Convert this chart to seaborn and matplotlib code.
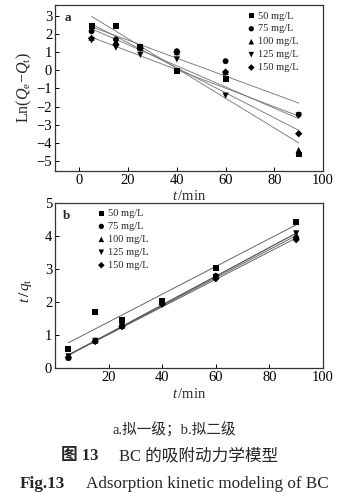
import numpy as np
import pandas as pd
import matplotlib
matplotlib.use("Agg")
import matplotlib.pyplot as plt
import seaborn as sns

sns.set_theme(style="ticks")
plt.rcParams['font.family'] = ['Liberation Serif', 'Noto Sans CJK SC']
plt.rcParams['mathtext.fontset'] = 'custom'
plt.rcParams['mathtext.rm'] = 'Liberation Serif'
plt.rcParams['mathtext.it'] = 'Liberation Serif:italic'
plt.rcParams['mathtext.bf'] = 'Liberation Serif:bold'

times = [5, 15, 25, 40, 60, 90]
series = ["50 mg/L", "75 mg/L", "100 mg/L", "125 mg/L", "150 mg/L"]

# panel a: pseudo-first-order ln(Qe-Qt)
a_50 = [2.45, 2.45, 1.30, -0.05, -0.50, -4.65]
a_75 = [2.15, 1.70, 1.30, 1.05, 0.50, -2.45]
a_100 = [1.80, 1.60, 1.25, 1.00, -0.10, -4.40]
a_125 = [1.65, 1.25, 0.85, 0.60, -1.40, -2.50]
a_150 = [1.75, 1.40, 1.20, 1.00, -0.10, -3.50]

# panel b: pseudo-second-order t/qt
b_50 = [0.57, 1.68, 1.46, 2.02, 3.03, 4.42]
b_75 = [0.30, 0.82, 1.27, 1.97, 2.78, 3.93]
b_100 = [0.33, 0.83, 1.28, 1.99, 2.80, 4.03]
b_125 = [0.35, 0.82, 1.26, 1.95, 2.75, 4.07]
b_150 = [0.32, 0.80, 1.25, 1.93, 2.70, 3.88]

markers = ['s', 'o', '^', 'v', 'D']
msizes = [18, 18, 20, 20, 14]

def long_df(vals):
    rows = []
    for name, ys in zip(series, vals):
        for t, y in zip(times, ys):
            rows.append({"t": t, "y": y, "series": name})
    return pd.DataFrame(rows)

dfa = long_df([a_50, a_75, a_100, a_125, a_150])
dfb = long_df([b_50, b_75, b_100, b_125, b_150])

fig = plt.figure(figsize=(3.55, 5.01), dpi=100)
axa = fig.add_axes([0.155, 0.659, 0.755, 0.331])
axb = fig.add_axes([0.155, 0.2655, 0.755, 0.330])

def draw(ax, df, legend_loc, bbox, line_color):
    for i, name in enumerate(series):
        sub = df[df.series == name]
        sns.regplot(data=sub, x="t", y="y", ax=ax, ci=None, scatter=False,
                    truncate=True, line_kws=dict(color=line_color, lw=0.65))
    for i, name in enumerate(series):
        sub = df[df.series == name]
        ax.scatter(sub.t, sub.y, marker=markers[i], s=msizes[i], color='black',
                   edgecolors='none', label=name, zorder=3)
    ax.legend(loc=legend_loc, bbox_to_anchor=bbox, frameon=False, fontsize=7.5,
              handletextpad=0.1, labelspacing=0.35, borderaxespad=0.2,
              handlelength=1.0, markerscale=0.9)
    for spine in ax.spines.values():
        spine.set_linewidth(0.9)
        spine.set_color('#333333')
    ax.tick_params(direction='in', length=3, width=0.7, labelsize=10.5, pad=2,
                   colors='black')
    ax.set_xlabel(r'$\mathit{t}\,$/min', fontsize=10.5, labelpad=2)

draw(axa, dfa, 'upper right', (0.93, 1.0), '#7a7a7a')
axa.set_xlim(-10, 100)
axa.set_ylim(-5.55, 3.6)
axa.set_xticks([0, 20, 40, 60, 80, 100])
axa.set_yticks([-5, -4, -3, -2, -1, 0, 1, 2, 3])
axa.set_ylabel(r'Ln($\mathit{Q}_{\mathrm{e}}$$-$$\mathit{Q}_{\mathrm{t}}$)', fontsize=11.5, labelpad=2)
axa.text(0.035, 0.96, 'a', transform=axa.transAxes, fontsize=9.5, fontweight='bold', va='top')

draw(axb, dfb, 'upper left', (0.13, 1.0), '#5a5a5a')
axb.set_xlim(0, 100)
axb.set_ylim(0, 5)
axb.set_xticks([20, 40, 60, 80, 100])
axb.set_yticks([0, 1, 2, 3, 4, 5])
axb.set_ylabel(r'$\mathbf{\mathit{t}\,/\,\mathit{q}_{\mathrm{t}}}$', fontsize=11)
axb.yaxis.set_label_coords(-0.08, 0.47)
axb.text(0.03, 0.955, 'b', transform=axb.transAxes, fontsize=9.5, fontweight='bold', va='top')

fig.text(0.49, 0.142, 'a.拟一级；b.拟二级', ha='center', va='center', fontsize=10.5)
fig.text(0.172, 0.089, '图 13', ha='left', va='center', fontsize=12, fontweight='bold')
fig.text(0.335, 0.089, 'BC 的吸附动力学模型', ha='left', va='center', fontsize=12)
fig.text(0.055, 0.033, 'Fig.13', ha='left', va='center', fontsize=12.3, fontweight='bold')
fig.text(0.242, 0.033, 'Adsorption kinetic modeling of BC', ha='left', va='center', fontsize=12.3)

fig.savefig('out.png', dpi=100)
